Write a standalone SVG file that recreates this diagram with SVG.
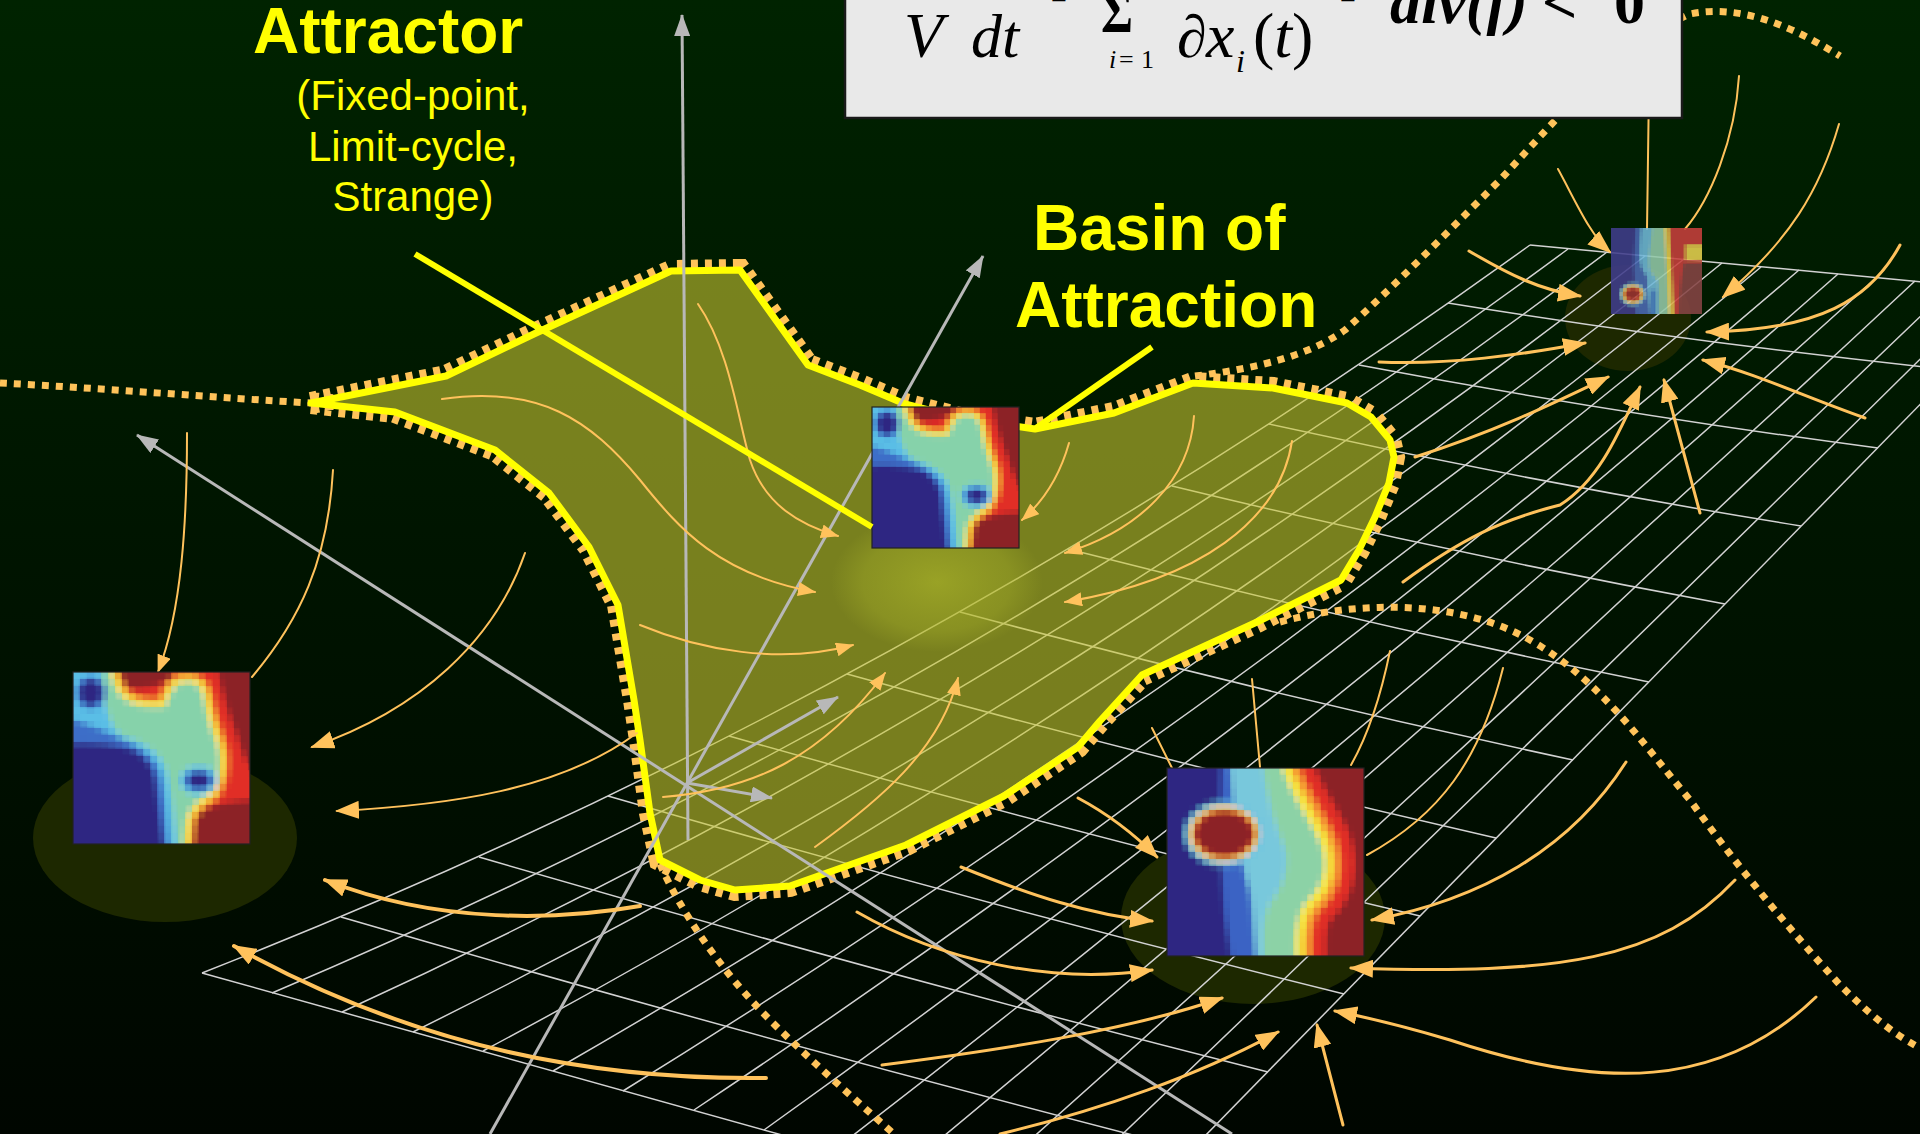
<svg xmlns="http://www.w3.org/2000/svg" width="1920" height="1134" viewBox="0 0 1920 1134">
  <defs>
    <style>
      .grid path { fill: none; stroke: #d2d2d2; stroke-width: 1.5; }
      .flow { fill: none; stroke: #ffc25c; stroke-linecap: round; }
      .w2 { stroke-width: 2; }
      .w3 { stroke-width: 3; }
      .w4 { stroke-width: 4; }
      .dots { fill: none; stroke: #ffc35a; stroke-width: 7; stroke-dasharray: 7 7; }
      .rim { fill: none; stroke: #ffc35a; stroke-width: 22; stroke-dasharray: 7 7; }
      .axis { fill: none; stroke: #b8b8b8; stroke-width: 3; }
      .lead { stroke: #ffff00; stroke-width: 6; stroke-linecap: butt; }
      .frame { fill: none; stroke: #222; stroke-width: 1.2; }
      .title { font-family: "Liberation Sans", Arial, sans-serif; font-weight: bold; font-size: 64px; fill: #ffff00; }
      .sub { font-family: "Liberation Sans", Arial, sans-serif; font-size: 42px; fill: #ffff00; text-anchor: middle; }
      .m { font-family: "Liberation Serif", "Times New Roman", serif; fill: #000; }
      .mi { font-style: italic; }
      .mb { font-weight: bold; }
    </style>

    <linearGradient id="bg" x1="0" y1="0" x2="0" y2="1">
      <stop offset="0" stop-color="#002300"/>
      <stop offset="0.5" stop-color="#001400"/>
      <stop offset="1" stop-color="#000600"/>
    </linearGradient>

    <radialGradient id="glow">
      <stop offset="0" stop-color="#b4be2c" stop-opacity="0.55"/>
      <stop offset="0.7" stop-color="#a8b22a" stop-opacity="0.35"/>
      <stop offset="1" stop-color="#a8b22a" stop-opacity="0"/>
    </radialGradient>

    <!-- blocky resampling of each colour map, one filter per tile size / origin -->
    <filter id="pixL" filterUnits="userSpaceOnUse" x="59" y="658" width="205" height="200">
      <feGaussianBlur in="SourceGraphic" stdDeviation="2.5" result="soft"/>
      <feFlood x="75" y="674" width="3" height="3"/>
      <feComposite x="73" y="672" width="7" height="7"/>
      <feTile result="cells"/>
      <feComposite in="soft" in2="cells" operator="in"/>
      <feMorphology operator="dilate" radius="2"/>
    </filter>
    <filter id="pixM" filterUnits="userSpaceOnUse" x="860" y="395" width="171" height="165">
      <feGaussianBlur in="SourceGraphic" stdDeviation="2" result="soft"/>
      <feFlood x="874" y="409" width="2" height="2"/>
      <feComposite x="872" y="407" width="6" height="6"/>
      <feTile result="cells"/>
      <feComposite in="soft" in2="cells" operator="in"/>
      <feMorphology operator="dilate" radius="2"/>
    </filter>
    <filter id="pixB" filterUnits="userSpaceOnUse" x="1153" y="754" width="225" height="216">
      <feGaussianBlur in="SourceGraphic" stdDeviation="2.5" result="soft"/>
      <feFlood x="1169" y="770" width="3" height="3"/>
      <feComposite x="1167" y="768" width="7" height="7"/>
      <feTile result="cells"/>
      <feComposite in="soft" in2="cells" operator="in"/>
      <feMorphology operator="dilate" radius="2"/>
    </filter>
    <filter id="pixS" filterUnits="userSpaceOnUse" x="1603" y="220" width="107" height="102">
      <feGaussianBlur in="SourceGraphic" stdDeviation="1.2" result="soft"/>
      <feFlood x="1612" y="229" width="2" height="2"/>
      <feComposite x="1611" y="228" width="4" height="4"/>
      <feTile result="cells"/>
      <feComposite in="soft" in2="cells" operator="in"/>
      <feMorphology operator="dilate" radius="1"/>
    </filter>

    <clipPath id="clipL"><rect x="73" y="672" width="177" height="172"/></clipPath>
    <clipPath id="clipM"><rect x="872" y="407" width="147" height="141"/></clipPath>
    <clipPath id="clipB"><rect x="1167" y="768" width="197" height="188"/></clipPath>
    <clipPath id="clipS"><rect x="1611" y="228" width="91" height="86"/></clipPath>

    <marker id="ah" markerUnits="userSpaceOnUse" viewBox="0 0 24 18" refX="22" refY="9" markerWidth="24" markerHeight="18" orient="auto">
      <path d="M0,0 L24,9 L0,18 Z" fill="#ffc25c"/>
    </marker>
    <marker id="ahs" markerUnits="userSpaceOnUse" viewBox="0 0 18 14" refX="17" refY="7" markerWidth="18" markerHeight="14" orient="auto">
      <path d="M0,0 L18,7 L0,14 Z" fill="#ffc25c"/>
    </marker>
    <marker id="ag" markerUnits="userSpaceOnUse" viewBox="0 0 22 16" refX="21" refY="8" markerWidth="22" markerHeight="16" orient="auto">
      <path d="M0,0 L22,8 L0,16 Z" fill="#b8b8b8"/>
    </marker>

    <path id="basinShape" d="M311,403 L446,376 L536,333 L671,271 L740,270 L808,365 L860,385 L905,404 L960,418 L1035,429 L1114,413 L1193,383 L1273,388 L1347,403 L1371,417 L1390,440 L1394,457 L1389,483 L1375,517 L1359,550 L1341,580 L1257,622 L1142,675 L1100,721 L1078,747 L1004,796 L906,845 L790,886 L735,890 L700,880 L660,860 L650,813 L640,740 L634,700 L618,605 L589,547 L549,493 L495,450 L395,412 Z"/>

    <mask id="outside" maskUnits="userSpaceOnUse" x="0" y="0" width="1920" height="1134">
      <rect x="0" y="0" width="1920" height="1134" fill="#fff"/>
      <use href="#basinShape" fill="#000"/>
    </mask>

    <!-- warm/cool boundary of colour map 1 -->
    <path id="edgeA" d="M-8,-8 H20 C22,14 30,22 52,20 C55,12 57,7 63,6 C69,5 73,9 74,16 C76,26 77,30 80,38 C84,48 84,60 78,70 C72,74 66,78 64,86 L62,108 H-8 Z"/>
    <path id="edgeB" d="M-8,-8 H56 C62,14 72,26 78,40 C82,52 80,62 72,70 C66,76 64,88 66,108 H-8 Z"/>

    <!-- colour map 1 (unit square 0..100): left and central attractor -->
    <g id="shapesA">
      <rect x="-8" y="-8" width="116" height="116" fill="#e12d28"/>
      <path d="M22,-8 H56 V4 C46,11 32,11 22,8 Z" fill="#8c2328"/>
      <path d="M80,-8 H108 V62 C100,60 96,50 92,36 C88,26 84,14 80,-8 Z" fill="#8c2328"/>
      <path d="M68,108 V84 C74,78 86,74 108,74 V108 Z" fill="#8c2328"/>
      <use href="#edgeA" fill="#f59632" stroke="#f59632" stroke-width="10"/>
      <use href="#edgeA" fill="#f5e63c" stroke="#f5e63c" stroke-width="5"/>
      <use href="#edgeA" fill="#86d2aa"/>
      <path d="M-8,-8 H16 C17,20 20,34 30,38 C42,42 50,48 53,58 C56,72 57,84 59,108 H-8 Z" fill="#5abee6"/>
      <path d="M-8,26 C6,28 18,34 28,39 C40,44 47,50 50,60 C52,72 53,84 55,108 H-8 Z" fill="#3e6ec8"/>
      <path d="M-8,42 C12,40 24,42 34,45 C42,49 46,56 47,64 C48,75 50,87 52,108 H-8 Z" fill="#2d2882"/>
      <ellipse cx="10" cy="12" rx="9" ry="10" fill="#3e6ec8"/>
      <ellipse cx="10" cy="12" rx="6.5" ry="7.5" fill="#2d2882"/>
      <ellipse cx="71" cy="63" rx="11" ry="8.5" fill="#5abee6"/>
      <ellipse cx="71" cy="63" rx="8.5" ry="6.5" fill="#3e6ec8"/>
      <ellipse cx="71" cy="63" rx="6" ry="4.5" fill="#2d2882"/>
    </g>

    <!-- colour map 2: lower right attractor -->
    <g id="shapesB">
      <rect x="-8" y="-8" width="116" height="116" fill="#8c2328"/>
      <use href="#edgeB" fill="#e12d28" stroke="#e12d28" stroke-width="30"/>
      <use href="#edgeB" fill="#f59632" stroke="#f59632" stroke-width="16"/>
      <use href="#edgeB" fill="#f5e63c" stroke="#f5e63c" stroke-width="8"/>
      <use href="#edgeB" fill="#8cd2a6"/>
      <path d="M-8,-8 H48 C50,18 56,32 60,44 C62,54 58,64 52,72 C48,80 48,92 50,108 H-8 Z" fill="#78c8dc"/>
      <path d="M-8,-8 H32 C34,30 38,50 42,64 C44,76 44,88 46,108 H-8 Z" fill="#3a64c4"/>
      <path d="M-8,-8 H28 C27,30 28,60 30,80 L34,108 H-8 Z" fill="#2d2882"/>
      <ellipse cx="29" cy="35" rx="20" ry="17" fill="#5abee6"/>
      <ellipse cx="29" cy="35" rx="18" ry="15" fill="#f5e63c"/>
      <ellipse cx="29" cy="35" rx="16.5" ry="13.5" fill="#e8502a"/>
      <ellipse cx="29" cy="35" rx="15" ry="12" fill="#8c2328"/>
    </g>

    <!-- colour map 3: upper right attractor -->
    <g id="shapesC">
      <rect x="-8" y="-8" width="116" height="116" fill="#874545"/>
      <path d="M58,-8 H108 V40 H80 C76,60 74,80 74,108 H58 Z" fill="#c8403c"/>
      <rect x="82" y="20" width="26" height="17" fill="#e6d250"/>
      <path d="M-8,-8 H58 C60,30 62,60 64,108 H-8 Z" fill="#e6d250" stroke="#e6d250" stroke-width="10"/>
      <path d="M-8,-8 H58 C60,30 62,60 64,108 H-8 Z" fill="#92c8a8"/>
      <path d="M-8,-8 H46 C44,20 40,32 42,46 C44,56 52,58 52,66 L52,108 H-8 Z" fill="#70b8d8"/>
      <path d="M-8,-8 H34 C32,20 30,34 34,46 C36,52 42,56 40,64 L44,108 H-8 Z" fill="#4a68b4"/>
      <path d="M-8,-8 H28 C26,20 24,40 26,60 L28,108 H-8 Z" fill="#403c8c"/>
      <rect x="44" y="72" width="6" height="36" fill="#4a80c8"/>
      <ellipse cx="24" cy="77" rx="14" ry="13" fill="#70b8d8"/>
      <ellipse cx="24" cy="77" rx="12" ry="11" fill="#e6d250"/>
      <ellipse cx="24" cy="77" rx="10" ry="9" fill="#d0503c"/>
      <ellipse cx="24" cy="77" rx="7" ry="6" fill="#9a3030"/>
    </g>
  </defs>

  <!-- background -->
  <rect x="0" y="0" width="1920" height="1134" fill="url(#bg)"/>

  <!-- dark pools under the outer attractors -->
  <g id="pools" fill="#1d2800">
    <ellipse cx="165" cy="838" rx="132" ry="84"/>
    <ellipse cx="1253" cy="918" rx="132" ry="86"/>
    <ellipse cx="1628" cy="318" rx="63" ry="53"/>
  </g>

  <!-- state-space surface mesh -->
  <g id="mesh" class="grid">
    <path d="M202,973 L1115,1228"/>
    <path d="M341,917 Q766,1041 1191,1150"/>
    <path d="M479,857 Q873,972 1268,1072"/>
    <path d="M608,796 Q976,903 1344,994"/>
    <path d="M729,736 Q1074,834 1420,916"/>
    <path d="M847,674 Q1171,764 1496,838"/>
    <path d="M960,612 Q1266,694 1573,760"/>
    <path d="M1068,549 Q1358,623 1649,682"/>
    <path d="M1172,486 Q1448,553 1725,604"/>
    <path d="M1269,424 Q1535,483 1801,526"/>
    <path d="M1359,365 Q1618,414 1878,448"/>
    <path d="M1448,303 Q1701,344 1954,370"/>
    <path d="M1530,245 L2030,292"/>
    <path d="M202,973 Q900,700 1530,245"/>
    <path d="M272,993 Q952,705 1568,249"/>
    <path d="M342,1012 Q1003,709 1607,252"/>
    <path d="M413,1032 Q1055,714 1645,256"/>
    <path d="M483,1051 Q1107,718 1684,259"/>
    <path d="M553,1071 Q1159,723 1722,263"/>
    <path d="M623,1091 Q1210,728 1761,267"/>
    <path d="M694,1110 Q1262,732 1799,270"/>
    <path d="M764,1130 Q1314,737 1838,274"/>
    <path d="M834,1150 Q1366,741 1876,278"/>
    <path d="M904,1169 Q1417,746 1915,281"/>
    <path d="M975,1189 Q1469,751 1953,285"/>
    <path d="M1045,1208 Q1521,755 1992,288"/>
    <path d="M1115,1228 L2030,292"/>
  </g>

  <!-- basin of attraction -->
  <g id="basin">
    <use href="#basinShape" fill="rgb(200,200,50)" fill-opacity="0.6"/>
    <ellipse cx="937" cy="582" rx="106" ry="70" fill="url(#glow)"/>
  </g>

  <!-- separatrix dotted lines -->
  <g id="separatrices">
    <use href="#basinShape" class="rim" mask="url(#outside)"/>
    <path class="dots" d="M0,383 C100,388 220,398 311,403"/>
    <path class="dots" d="M1195,376 C1260,368 1310,355 1345,330 C1390,290 1440,240 1500,180 C1560,115 1620,45 1690,14 C1740,4 1790,25 1840,56"/>
    <path class="dots" d="M660,864 C680,910 720,970 770,1020 C810,1060 850,1095 894,1134"/>
    <path class="dots" d="M1280,622 C1360,600 1460,600 1530,640 C1600,680 1640,740 1690,800 C1740,870 1790,930 1840,985 C1870,1015 1895,1035 1920,1048"/>
  </g>

  <!-- basin boundary -->
  <use id="basinEdge" href="#basinShape" fill="none" stroke="#ffff00" stroke-width="7" stroke-linejoin="round"/>

  <!-- coordinate axes -->
  <g id="axes" class="axis">
    <path d="M688,840 L682,15" marker-end="url(#ag)"/>
    <path d="M490,1134 L983,256" marker-end="url(#ag)"/>
    <path d="M1232,1134 L137,435" marker-end="url(#ag)"/>
    <path d="M687,783 L838,697" marker-end="url(#ag)"/>
    <path d="M687,783 L772,798" marker-end="url(#ag)"/>
  </g>

  <!-- trajectories -->
  <g id="flows">
    <path class="flow w2" d="M442,399 C540,385 590,420 640,480 C680,530 720,575 815,592" marker-end="url(#ahs)"/>
    <path class="flow w2" d="M698,304 C730,350 738,420 750,460 C765,505 800,525 838,536" marker-end="url(#ahs)"/>
    <path class="flow w2" d="M640,625 C700,650 780,665 853,645" marker-end="url(#ahs)"/>
    <path class="flow w2" d="M663,797 C750,790 820,760 885,673" marker-end="url(#ahs)"/>
    <path class="flow w2" d="M815,847 C880,800 940,750 958,678" marker-end="url(#ahs)"/>
    <path class="flow w2" d="M1069,443 C1060,475 1045,500 1022,520" marker-end="url(#ahs)"/>
    <path class="flow w2" d="M1194,416 C1190,480 1140,530 1065,553" marker-end="url(#ahs)"/>
    <path class="flow w2" d="M1292,441 C1280,520 1200,580 1065,602" marker-end="url(#ahs)"/>

    <path class="flow w2" d="M187,433 C187,520 182,610 158,672" marker-end="url(#ahs)"/>
    <path class="flow w2" d="M333,470 C328,560 300,620 252,677"/>
    <path class="flow w2" d="M525,553 C495,640 420,710 312,747" marker-end="url(#ah)"/>
    <path class="flow w2" d="M637,733 C560,790 450,805 337,811" marker-end="url(#ah)"/>
    <path class="flow w4" d="M640,906 C560,920 440,925 325,880" marker-end="url(#ah)"/>
    <path class="flow w4" d="M766,1078 C600,1080 420,1050 234,946" marker-end="url(#ah)"/>

    <path class="flow w3" d="M1078,798 C1110,815 1135,835 1157,857" marker-end="url(#ah)"/>
    <path class="flow w3" d="M961,867 C1030,895 1090,915 1152,921" marker-end="url(#ah)"/>
    <path class="flow w3" d="M857,912 C940,960 1050,985 1152,970" marker-end="url(#ah)"/>
    <path class="flow w3" d="M882,1065 C1000,1050 1130,1030 1222,998" marker-end="url(#ah)"/>
    <path class="flow w3" d="M1000,1134 C1100,1110 1200,1075 1278,1032" marker-end="url(#ah)"/>
    <path class="flow w3" d="M1343,1125 L1317,1025" marker-end="url(#ah)"/>
    <path class="flow w3" d="M1816,997 C1720,1090 1600,1090 1450,1040 C1400,1025 1370,1018 1335,1011" marker-end="url(#ah)"/>
    <path class="flow w3" d="M1735,880 C1660,960 1560,975 1351,968" marker-end="url(#ah)"/>
    <path class="flow w3" d="M1626,762 C1570,850 1480,900 1372,920" marker-end="url(#ah)"/>
    <path class="flow w2" d="M1503,668 C1480,760 1440,815 1367,855"/>
    <path class="flow w2" d="M1390,651 C1380,700 1368,735 1351,765"/>
    <path class="flow w2" d="M1252,679 L1260,767"/>
    <path class="flow w2" d="M1152,728 L1172,768"/>

    <path class="flow w3" d="M1469,251 C1510,275 1540,290 1580,296" marker-end="url(#ah)"/>
    <path class="flow w2" d="M1649,86 C1648,150 1647,200 1647,229"/>
    <path class="flow w2" d="M1739,76 C1735,140 1710,200 1685,229"/>
    <path class="flow w2" d="M1558,169 C1575,200 1590,235 1610,252" marker-end="url(#ah)"/>
    <path class="flow w2" d="M1839,124 C1820,190 1790,240 1723,297" marker-end="url(#ah)"/>
    <path class="flow w3" d="M1900,245 C1870,300 1820,330 1707,332" marker-end="url(#ah)"/>
    <path class="flow w3" d="M1865,418 C1800,395 1760,375 1703,360" marker-end="url(#ah)"/>
    <path class="flow w3" d="M1700,513 L1664,380" marker-end="url(#ah)"/>
    <path class="flow w3" d="M1403,582 C1460,540 1500,520 1560,505 C1600,480 1620,430 1640,387" marker-end="url(#ah)"/>
    <path class="flow w3" d="M1415,457 C1500,430 1560,400 1608,377" marker-end="url(#ah)"/>
    <path class="flow w3" d="M1379,362 C1450,365 1520,355 1585,343" marker-end="url(#ah)"/>
  </g>

  <!-- attractor snapshots -->
  <g id="attractor-left">
    <g clip-path="url(#clipL)"><g filter="url(#pixL)"><use href="#shapesA" transform="translate(73,672) scale(1.77,1.72)"/></g></g>
    <rect class="frame" x="73" y="672" width="177" height="172"/>
  </g>
  <g id="attractor-centre">
    <g clip-path="url(#clipM)"><g filter="url(#pixM)"><use href="#shapesA" transform="translate(872,407) scale(1.47,1.41)"/></g></g>
    <rect class="frame" x="872" y="407" width="147" height="141"/>
  </g>
  <g id="attractor-lower">
    <g clip-path="url(#clipB)"><g filter="url(#pixB)"><use href="#shapesB" transform="translate(1167,768) scale(1.97,1.88)"/></g></g>
    <rect class="frame" x="1167" y="768" width="197" height="188"/>
  </g>
  <g id="attractor-upper" opacity="0.88">
    <g clip-path="url(#clipS)"><g filter="url(#pixS)"><use href="#shapesC" transform="translate(1611,228) scale(0.91,0.86)"/></g></g>
  </g>

  <!-- labels -->
  <g id="label-attractor">
    <line class="lead" x1="415" y1="254" x2="872" y2="527"/>
    <text class="title" x="253" y="53">Attractor</text>
    <text class="sub" x="413" y="110">(Fixed-point,</text>
    <text class="sub" x="413" y="161">Limit-cycle,</text>
    <text class="sub" x="413" y="211">Strange)</text>
  </g>
  <g id="label-basin">
    <line class="lead" x1="1152" y1="347" x2="1036" y2="428"/>
    <text class="title" x="1033" y="250">Basin of</text>
    <text class="title" x="1015" y="327">Attraction</text>
  </g>

  <!-- divergence formula -->
  <g id="formula">
    <rect x="845" y="-6" width="837" height="124" fill="#e9e9e9" stroke="#1a1a1a" stroke-width="2.5"/>
    <text class="m mi" x="904" y="57" font-size="64">V</text>
    <text class="m mi" x="971" y="57" font-size="62">dt</text>
    <text class="m" x="1051" y="7" font-size="28">=</text>
    <text class="m mb" x="1101" y="32" font-size="62" textLength="32" lengthAdjust="spacingAndGlyphs">Σ</text>
    <text class="m" y="68" font-size="26"><tspan class="mi" x="1109">i</tspan><tspan x="1119">=</tspan><tspan x="1141">1</tspan></text>
    <text class="m mi" x="1177" y="57" font-size="60">∂</text>
    <text class="m mi" x="1206" y="57" font-size="64">x</text>
    <text class="m mi" x="1236" y="72" font-size="32">i</text>
    <text class="m" x="1253" y="57" font-size="64">(<tspan class="mi">t</tspan>)</text>
    <text class="m" x="1340" y="7" font-size="28">=</text>
    <text class="m mi mb" x="1390" y="23" font-size="62">div(f)</text>
    <text class="m mb" x="1542" y="23" font-size="62">&lt;</text>
    <text class="m mb" x="1614" y="23" font-size="62">0</text>
  </g>
</svg>
